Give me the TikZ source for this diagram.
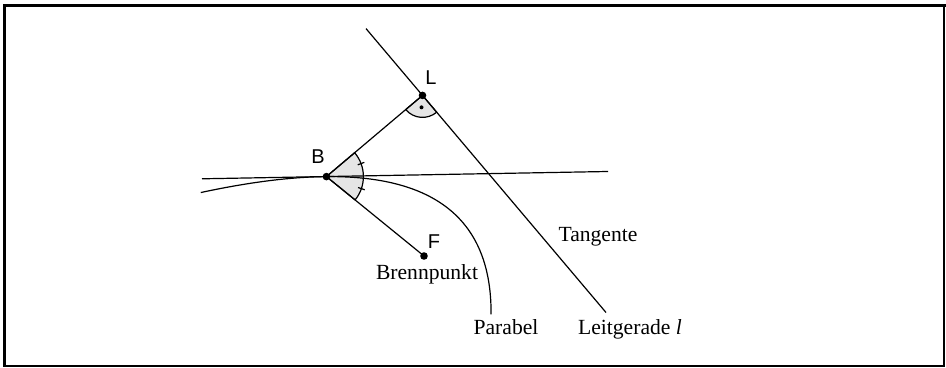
\documentclass[tikz,border=0pt]{standalone}
\usepackage{fontspec}
\setmainfont{Liberation Serif}
\newfontfamily\arialf{Liberation Sans}
\begin{document}
\begin{tikzpicture}[x=0.5pt,y=0.5pt,
  geo/.style={line width=0.6pt},
  ptdot/.style={circle,fill=black,inner sep=0pt,minimum size=3.8pt},
  ptlabel/.style={font=\arialf\fontsize{10}{12}\selectfont,inner sep=0pt},
  txtlabel/.style={font=\fontsize{10.8}{13}\selectfont,inner sep=0pt,anchor=base},
  sector/.style={fill=black!10,draw=black,line width=0.6pt}]
\useasboundingbox (0,0) rectangle (946,368);
% frame
\coordinate (fbl) at (4.5,2);
\coordinate (ftl) at (4.5,362);
\coordinate (ftr) at (944,362);
\coordinate (fbr) at (944,2);
\draw[line width=1.5pt,line cap=rect] (fbl) -- (ftl) -- (ftr);
\draw[line width=1pt,line cap=rect] (ftr) -- (fbr) -- (fbl);

\coordinate (B) at (326.4,191.4);
\coordinate (L) at (422.5,272.6);
\coordinate (F) at (424,112);
\coordinate (ltop) at (366,339.4);
\coordinate (lbot) at (606,55.5);
\coordinate (tl) at (202,189.2);
\coordinate (tr) at (608,196.5);

% angle sectors
\filldraw[sector] (B) -- ++(-39.1:37) arc[start angle=-39.1,end angle=40.2,radius=37] -- cycle;
\draw[geo,shift={(B)}] (20.6:33.5) -- (20.6:40.5);
\draw[geo,shift={(B)}] (-19:33.5) -- (-19:40.5);
\filldraw[sector] (L) -- ++(220.2:22) arc[start angle=220.2,end angle=310.2,radius=22] -- cycle;
\fill ([shift={(265.2:12)}]L) circle (2);

% lines
\draw[geo] (ltop) -- (lbot);
\draw[geo] (tl) -- (tr);
\draw[geo] (B) -- (L);
\draw[geo] (B) -- (F);
\draw[geo] plot[domain=-19.25:8.8, samples=120, smooth]
  ({463.1+6.455*\x-0.37259*\x*\x},{145.1-7.638*\x-0.31488*\x*\x});

% points
\node[ptdot] (Bd) at (B) {};
\node[ptdot] (Ld) at (L) {};
\node[ptdot] (Fd) at (F) {};

% labels
\node[ptlabel] (Blab) at (318,211) {B};
\node[ptlabel] (Llab) at (431,290) {L};
\node[ptlabel] (Flab) at (434,126) {F};
\node[txtlabel] (brenn) at (427,88) {Brennpunkt};
\node[txtlabel] (tang) at (598,126) {Tangente};
\node[txtlabel] (parab) at (506,33) {Parabel};
\node[txtlabel] (leit) at (630,33) {Leitgerade \textit{l}};
\end{tikzpicture}
\end{document}
